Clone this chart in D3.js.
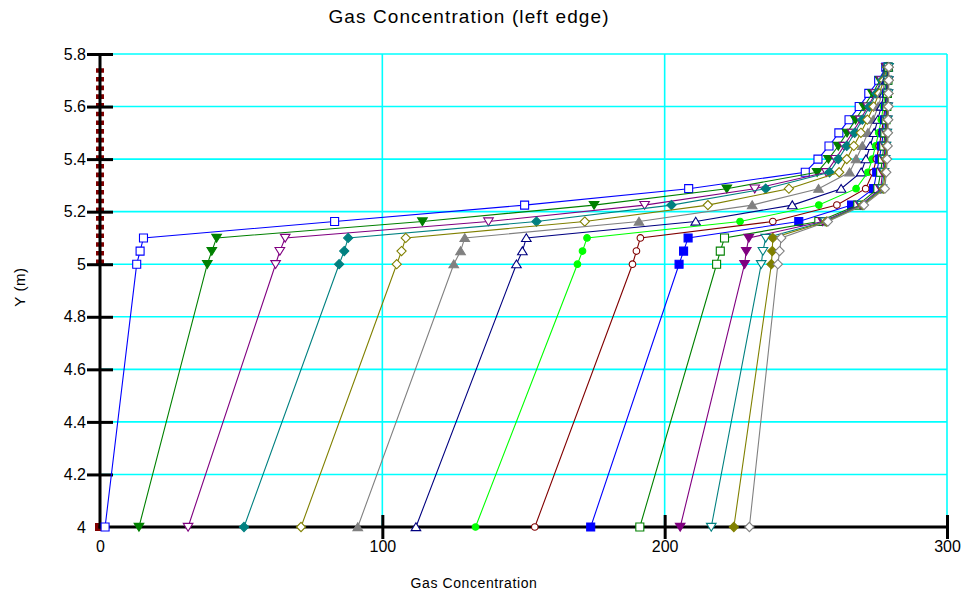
<!DOCTYPE html>
<html>
<head>
<meta charset="utf-8">
<script src="https://cdn.jsdelivr.net/npm/d3@7"></script>
<style>
  body { margin: 0; background: #fff; }
  svg { display: block; font-family: Arial, "Liberation Sans", sans-serif; }
</style>
</head>
<body>
<svg id="chart" width="962" height="596"></svg>
<script>
// Heights (m) at which every concentration profile is sampled
const yLevels = [4, 5, 5.05, 5.1, 5.1625, 5.225, 5.2875, 5.35, 5.4, 5.45, 5.5, 5.55, 5.6, 5.65, 5.7, 5.75];

// Concentration profiles, one per time step (same order as yLevels)
const conc00 = [0, 0, 0, 0, 0, 0, 0, 0, 0, 0, 0, 0, 0, 0, 0, 0];
const conc01 = [1.8, 13.0, 14.2, 15.4, 83.1, 150.4, 208.5, 249.8, 254.3, 258.2, 261.7, 265.3, 268.9, 272.3, 275.8, 278.3];
const conc02 = [13.8, 38.0, 39.6, 41.3, 114.2, 175.0, 222.0, 254.0, 258.0, 261.5, 264.6, 267.6, 270.6, 273.6, 276.3, 278.5];
const conc03 = [31.2, 62.2, 63.7, 65.6, 137.6, 192.9, 231.9, 257.3, 260.5, 263.5, 266.5, 269.3, 272.0, 274.6, 276.8, 278.6];
const conc04 = [51.0, 84.7, 86.5, 87.9, 154.6, 202.4, 235.8, 258.4, 261.5, 264.5, 267.3, 270.0, 272.5, 275.0, 277.0, 278.7];
const conc05 = [71.2, 105.1, 106.8, 108.3, 171.7, 215.3, 244.0, 261.8, 264.5, 267.0, 269.5, 271.8, 274.0, 276.0, 277.6, 278.8];
const conc06 = [91.3, 125.3, 127.7, 129.2, 190.9, 231.0, 254.5, 265.5, 267.8, 270.0, 272.0, 273.9, 275.6, 277.0, 278.1, 278.9];
const conc07 = [111.9, 147.5, 149.6, 151.0, 211.0, 245.2, 262.5, 269.6, 271.3, 272.8, 274.2, 275.5, 276.7, 277.7, 278.5, 279.0];
const conc08 = [133.0, 169.1, 170.9, 172.5, 226.7, 254.6, 267.8, 272.0, 273.5, 274.7, 275.8, 276.7, 277.5, 278.1, 278.6, 279.0];
const conc09 = [154.0, 188.6, 190.0, 191.4, 238.3, 261.0, 271.2, 273.8, 275.0, 276.0, 276.8, 277.5, 278.0, 278.5, 278.8, 279.1];
const conc10 = [173.8, 205.1, 206.7, 208.3, 247.5, 266.2, 274.0, 275.1, 276.0, 276.8, 277.4, 277.9, 278.3, 278.6, 278.9, 279.1];
const conc11 = [191.2, 218.4, 219.7, 221.2, 254.6, 268.4, 275.5, 276.5, 277.1, 277.6, 278.0, 278.4, 278.7, 278.9, 279.1, 279.2];
const conc12 = [205.5, 228.3, 228.9, 229.8, 256.0, 269.3, 276.5, 277.2, 277.7, 278.1, 278.4, 278.7, 278.9, 279.0, 279.2, 279.2];
const conc13 = [216.5, 234.2, 234.8, 235.8, 256.8, 269.8, 277.0, 277.7, 278.1, 278.4, 278.7, 278.9, 279.0, 279.1, 279.2, 279.3];
const conc14 = [224.5, 237.8, 238.1, 238.3, 257.3, 270.2, 277.5, 278.1, 278.4, 278.7, 278.9, 279.0, 279.1, 279.2, 279.3, 279.3];
const conc15 = [230.0, 240.1, 240.7, 241.3, 257.8, 270.6, 278.0, 278.5, 278.8, 279.0, 279.1, 279.2, 279.3, 279.3, 279.4, 279.4];

const profiles = [conc01, conc02, conc03, conc04, conc05, conc06, conc07, conc08,
                  conc09, conc10, conc11, conc12, conc13, conc14, conc15];

// Axis ticks
const xTicks = [0, 100, 200, 300];
const xTickLabels = ["0", "100", "200", "300"];
const yTicks = [4, 4.2, 4.4, 4.6, 4.8, 5, 5.2, 5.4, 5.6, 5.8];
const yTickLabels = ["4", "4.2", "4.4", "4.6", "4.8", "5", "5.2", "5.4", "5.6", "5.8"];

// Texts
const titleText = "Gas Concentration (left edge)";
const xTitle = "Gas Concentration";
const yTitle = "Y (m)";

// Line / marker styles for each profile
const styles = [
  { color: "#0000ff", shape: "square",  filled: false },
  { color: "#008000", shape: "triDown", filled: true  },
  { color: "#800080", shape: "triDown", filled: false },
  { color: "#008080", shape: "diamond", filled: true  },
  { color: "#808000", shape: "diamond", filled: false },
  { color: "#808080", shape: "triUp",   filled: true  },
  { color: "#000080", shape: "triUp",   filled: false },
  { color: "#00ff00", shape: "circle",  filled: true  },
  { color: "#800000", shape: "circle",  filled: false },
  { color: "#0000ff", shape: "square",  filled: true  },
  { color: "#008000", shape: "square",  filled: false },
  { color: "#800080", shape: "triDown", filled: true  },
  { color: "#008080", shape: "triDown", filled: false },
  { color: "#808000", shape: "diamond", filled: true  },
  { color: "#808080", shape: "diamond", filled: false }
];

const plot = { left: 100, right: 947, top: 54, bottom: 527 };
const FONT = "Arial, 'Liberation Sans', sans-serif";

const svg = d3.select("#chart");

const x = d3.scaleLinear().domain([0, 300]).range([plot.left, plot.right]);
const y = d3.scaleLinear().domain([4, 5.8]).range([plot.bottom, plot.top]);

// Grid
const grid = svg.append("g").attr("stroke", "#00ffff").attr("stroke-width", 1.6);
grid.selectAll("line.h").data(yTicks.filter(v => v > 4)).join("line")
  .attr("class", "h")
  .attr("x1", plot.left).attr("x2", plot.right)
  .attr("y1", d => y(d)).attr("y2", d => y(d));
grid.selectAll("line.v").data(xTicks.filter(v => v > 0)).join("line")
  .attr("class", "v")
  .attr("y1", plot.top).attr("y2", plot.bottom)
  .attr("x1", d => x(d)).attr("x2", d => x(d));

// Marker shapes
function markerPath(shape) {
  switch (shape) {
    case "square":  return "M-4,-4H4V4H-4Z";
    case "triDown": return "M-4.8,-3.6H4.8L0,4.2Z";
    case "triUp":   return "M-4.8,3.6H4.8L0,-4.2Z";
    case "diamond": return "M0,-4.6L4.6,0L0,4.6L-4.6,0Z";
    case "circle":  return "M3.3,0A3.3,3.3 0 1,1 -3.3,0A3.3,3.3 0 1,1 3.3,0Z";
  }
}

// Initial profile (zero concentration) along the left edge
const initialPts = yLevels.map((yy, i) => ({ c: conc00[i], y: yy }));
svg.append("path")
  .datum(initialPts.filter(p => p.y >= 5))
  .attr("fill", "none")
  .attr("stroke", "#800000")
  .attr("stroke-width", 8)
  .attr("stroke-dasharray", "4.6,4.1")
  .attr("d", d3.line().x(p => x(p.c)).y(p => y(p.y)));
svg.append("path")
  .datum(initialPts[0])
  .attr("fill", "#800000")
  .attr("transform", p => `translate(${x(p.c) - 1},${y(p.y)})`)
  .attr("d", markerPath("square"));

// Axes
const fontSize = 16;
const yAxis = d3.axisLeft(y).tickValues(yTicks)
  .tickFormat((d, i) => yTickLabels[i]).tickSize(13).tickPadding(1).tickSizeOuter(0);
const gy = svg.append("g").attr("transform", `translate(${plot.left},0)`).call(yAxis);
gy.select(".domain").attr("stroke", "#000").attr("stroke-width", 3).attr("d", `M0,${plot.bottom + 1.5}V${plot.top - 1}`);
gy.selectAll(".tick line").attr("x1", 13).attr("stroke-width", 3)
  .attr("display", d => d === 4 ? "none" : null);
gy.selectAll(".tick text").attr("font-size", fontSize).attr("font-family", FONT).attr("fill", "#000");

const xAxis = d3.axisBottom(x).tickValues(xTicks)
  .tickFormat((d, i) => xTickLabels[i]).tickSize(12).tickPadding(2).tickSizeOuter(0);
const gx = svg.append("g").attr("transform", `translate(0,${plot.bottom})`).call(xAxis);
gx.select(".domain").attr("stroke", "#000").attr("stroke-width", 3).attr("d", `M${plot.left - 1.5},0H${plot.right + 1.5}`);
gx.selectAll(".tick line").attr("y1", -12).attr("stroke-width", 3)
  .attr("display", d => d === 0 ? "none" : null);
gx.selectAll(".tick text").attr("font-size", fontSize).attr("font-family", FONT).attr("fill", "#000");

// Profiles
const line = d3.line().x(p => x(p.c)).y(p => y(p.y));
profiles.forEach((vals, k) => {
  const st = styles[k];
  const pts = yLevels.map((yy, i) => ({ c: vals[i], y: yy }));
  const g = svg.append("g");
  g.append("path").datum(pts)
    .attr("fill", "none").attr("stroke", st.color).attr("stroke-width", 1.1)
    .attr("d", line);
  g.selectAll("path.m").data(pts).join("path")
    .attr("class", "m")
    .attr("transform", p => `translate(${x(p.c)},${y(p.y)})`)
    .attr("d", markerPath(st.shape))
    .attr("fill", st.filled ? st.color : "#fff")
    .attr("stroke", st.color).attr("stroke-width", 1.1);
});

// Titles
svg.append("text").attr("x", 469).attr("y", 23).attr("text-anchor", "middle")
  .attr("font-size", 19).attr("letter-spacing", 1.1).attr("fill", "#000").text(titleText);
svg.append("text").attr("x", 474).attr("y", 588).attr("text-anchor", "middle")
  .attr("font-size", 14).attr("letter-spacing", 0.6).attr("fill", "#000").text(xTitle);
svg.append("text").attr("transform", "translate(25,287) rotate(-90)").attr("text-anchor", "middle")
  .attr("font-size", 15).attr("letter-spacing", 0.6).attr("fill", "#000").text(yTitle);
</script>
</body>
</html>
